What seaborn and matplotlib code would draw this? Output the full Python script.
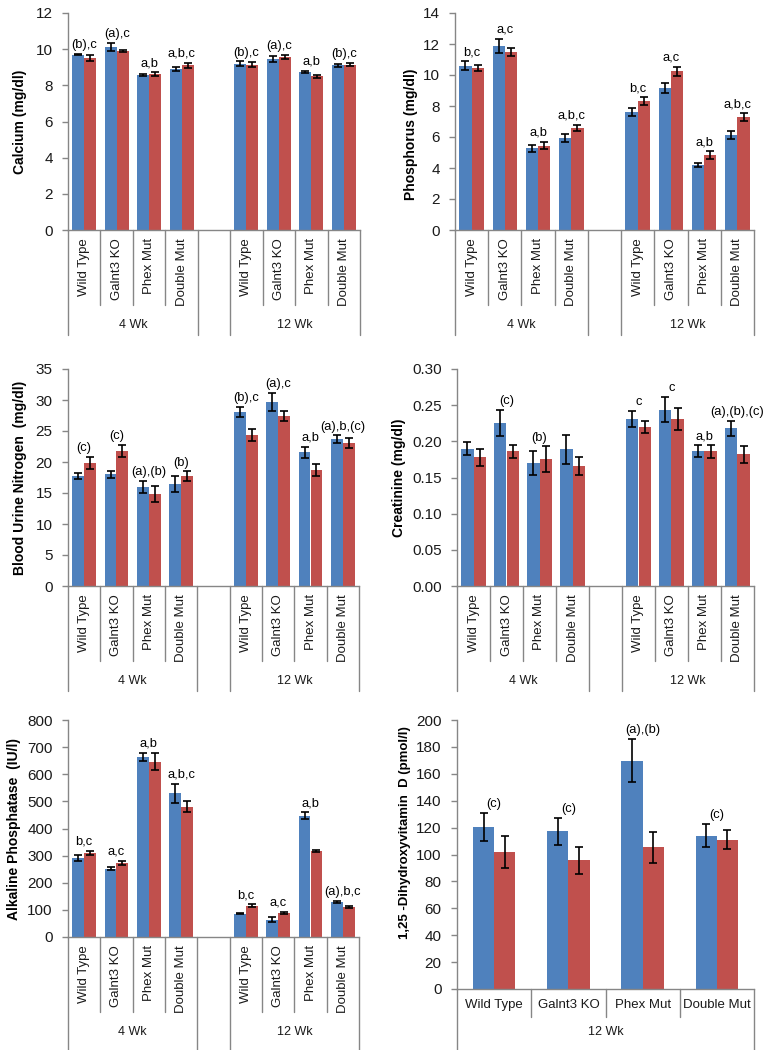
import matplotlib
matplotlib.use("Agg")
import matplotlib.pyplot as plt
import seaborn as sns
import pandas as pd
import numpy as np
from matplotlib.container import BarContainer
from matplotlib.transforms import blended_transform_factory

sns.set_theme(style="white")
plt.rcParams['font.family'] = ['Liberation Sans', 'DejaVu Sans']

# ---------------- data ----------------
genotypes = ["Wild Type", "Galnt3 KO", "Phex Mut", "Double Mut"]
ages = ["4 Wk", "12 Wk"]
series = ["Series 1", "Series 2"]
colors = ["#4F81BD", "#C0504D"]

# order of values: 4 Wk (WT, Galnt3, Phex, Double), 12 Wk (WT, Galnt3, Phex, Double)
calcium_s1 = [9.70, 10.12, 8.57, 8.92, 9.20, 9.45, 8.75, 9.10]
calcium_s2 = [9.52, 9.90, 8.62, 9.10, 9.15, 9.58, 8.50, 9.15]
calcium_e1 = [0.05, 0.22, 0.08, 0.12, 0.12, 0.15, 0.06, 0.08]
calcium_e2 = [0.15, 0.08, 0.10, 0.15, 0.12, 0.12, 0.08, 0.08]
calcium_txt = ["(b),c", "(a),c", "a,b", "a,b,c", "(b),c", "(a),c", "a,b", "(b),c"]

phos_s1 = [10.60, 11.90, 5.26, 5.95, 7.60, 9.16, 4.20, 6.14]
phos_s2 = [10.43, 11.50, 5.45, 6.60, 8.30, 10.24, 4.85, 7.30]
phos_e1 = [0.30, 0.45, 0.20, 0.25, 0.25, 0.35, 0.12, 0.25]
phos_e2 = [0.20, 0.25, 0.25, 0.20, 0.25, 0.30, 0.25, 0.25]
phos_txt = ["b,c", "a,c", "a,b", "a,b,c", "b,c", "a,c", "a,b", "a,b,c"]

bun_s1 = [17.8, 18.0, 16.0, 16.5, 28.1, 29.7, 21.6, 23.7]
bun_s2 = [19.8, 21.8, 14.9, 17.7, 24.4, 27.4, 18.7, 23.0]
bun_e1 = [0.5, 0.5, 1.0, 1.3, 0.8, 1.4, 0.9, 0.6]
bun_e2 = [1.0, 1.0, 1.3, 0.8, 1.0, 0.8, 0.9, 0.8]
bun_txt = ["(c)", "(c)", "(a),(b)", "(b)", "(b),c", "(a),c", "a,b", "(a),b,(c)"]

crea_s1 = [0.190, 0.226, 0.170, 0.189, 0.231, 0.244, 0.187, 0.218]
crea_s2 = [0.178, 0.186, 0.175, 0.166, 0.220, 0.231, 0.186, 0.182]
crea_e1 = [0.009, 0.018, 0.016, 0.020, 0.011, 0.017, 0.008, 0.010]
crea_e2 = [0.012, 0.009, 0.018, 0.013, 0.008, 0.015, 0.009, 0.012]
crea_txt = ["", "(c)", "(b)", "", "c", "c", "a,b", "(a),(b),(c)"]

alp_s1 = [291, 252, 665, 530, 86, 64, 447, 128]
alp_s2 = [310, 274, 647, 481, 115, 88, 317, 112]
alp_e1 = [10, 6, 15, 35, 3, 8, 12, 4]
alp_e2 = [8, 8, 30, 20, 5, 5, 5, 4]
alp_txt = ["b,c", "a,c", "a,b", "a,b,c", "b,c", "a,c", "a,b", "(a),b,c"]

vitd_s1 = [120.5, 117.3, 169.8, 114.0]
vitd_s2 = [102.0, 95.8, 105.4, 110.9]
vitd_e1 = [10.5, 10.0, 16.0, 8.5]
vitd_e2 = [12.0, 10.0, 11.5, 7.0]
vitd_txt = ["(c)", "(c)", "(a),(b)", "(c)"]

W, H = 772, 1050
fig = plt.figure(figsize=(W / 100, H / 100), dpi=100)
AXC = "#868686"
TXC = "#1a1a1a"


def px_axes(l, r, t, b):
    return fig.add_axes([l / W, 1 - b / H, (r - l) / W, (b - t) / H])


def panel(rect, s1, s2, e1, e2, txt, ylabel, ymax, ystep, fmt, age_list,
          vertical, width, cat_depth, grp_depth, cat_lab_off, grp_lab_off,
          ylab_x, ylab_y, ylab_size=10):
    l, r, t, b = rect
    ax = px_axes(l, r, t, b)
    keys, rows = [], []
    n = len(genotypes)
    for gi, age in enumerate(age_list):
        for ci, g in enumerate(genotypes):
            k = f"{age}|{g}"
            keys.append(k)
            idx = gi * n + ci
            rows.append((k, series[0], s1[idx]))
            rows.append((k, series[1], s2[idx]))
        if gi < len(age_list) - 1:
            keys.append(f"gap{gi}")
    df = pd.DataFrame(rows, columns=["cat", "series", "value"])
    sns.barplot(data=df, x="cat", y="value", hue="series", order=keys,
                hue_order=series, palette=colors, saturation=1,
                width=width, errorbar=None, linewidth=0, ax=ax, legend=False)
    # error bars from the bar geometry seaborn created
    errs = [e1, e2]
    tops = {}
    bar_conts = [c for c in list(ax.containers) if isinstance(c, BarContainer)]
    for si, cont in enumerate(bar_conts):
        patches = [p for p in cont if p is not None and np.isfinite(p.get_height())]
        patches.sort(key=lambda p: p.get_x())
        xs = [p.get_x() + p.get_width() / 2 for p in patches]
        hs = [p.get_height() for p in patches]
        ax.errorbar(xs, hs, yerr=errs[si][:len(hs)], fmt="none", ecolor="black",
                    elinewidth=1.2, capsize=3, capthick=1.2, zorder=5)
        for j, hh in enumerate(hs):
            tops.setdefault(j, []).append(hh + errs[si][j])
    # annotation letters
    data_pos = [i for i, k in enumerate(keys) if not k.startswith("gap")]
    for j, xpos in enumerate(data_pos):
        if txt[j]:
            ax.annotate(txt[j], (xpos, max(tops[j])), xytext=(0, 2),
                        textcoords="offset points", ha="center", va="bottom",
                        fontsize=9.3, color="black")
    ax.set_ylim(0, ymax)
    ticks = np.arange(0, ymax + ystep / 2, ystep)
    ax.set_yticks(ticks)
    ax.set_yticklabels([fmt.format(v) for v in ticks], fontsize=11, color=TXC)
    ax.set_xlim(-0.5, len(keys) - 0.5)
    ax.set_xticks([])
    ax.set_xlabel("")
    ax.set_ylabel(ylabel, fontsize=ylab_size, fontweight="bold", color="black")
    ax.yaxis.set_label_coords(ylab_x / (r - l), ylab_y)
    for sp in ["top", "right"]:
        ax.spines[sp].set_visible(False)
    for sp in ["left", "bottom"]:
        ax.spines[sp].set_color(AXC)
        ax.spines[sp].set_linewidth(1)
    ax.tick_params(axis="y", left=True, length=4, width=1, color=AXC, pad=7)
    # multi-level category axis
    tr = blended_transform_factory(ax.transData, ax.transAxes)
    hpx = b - t

    def dy(p):
        return -p / hpx

    group_bounds = []
    pos = 0
    for gi, age in enumerate(age_list):
        start = pos - 0.5
        end = pos + n - 0.5
        group_bounds.append((start, end, age))
        pos += n + 1
    for start, end, age in group_bounds:
        for xb in (start, end):
            ax.plot([xb, xb], [0, dy(grp_depth)], transform=tr, color=AXC,
                    lw=1, clip_on=False)
        for k in range(1, n):
            ax.plot([start + k, start + k], [0, dy(cat_depth)], transform=tr,
                    color=AXC, lw=1, clip_on=False)
        ax.text((start + end) / 2, dy(grp_lab_off), age, transform=tr,
                ha="center", va="center", fontsize=9, color=TXC)
        for ci, g in enumerate(genotypes):
            xc = start + 0.5 + ci
            if vertical:
                ax.text(xc, dy(cat_lab_off), g, transform=tr, rotation=90,
                        ha="center", va="top", fontsize=9.5, color=TXC)
            else:
                ax.text(xc, dy(cat_lab_off), g, transform=tr,
                        ha="center", va="center", fontsize=9.5, color=TXC)
    return ax


panel((68, 360, 13, 230), calcium_s1, calcium_s2, calcium_e1, calcium_e2,
      calcium_txt, "Calcium (mg/dl)", 12, 2, "{:.0f}", ages, True, 0.74,
      75, 105, 8, 95, -41, 0.5)
panel((455, 754, 13, 230), phos_s1, phos_s2, phos_e1, phos_e2,
      phos_txt, "Phosphorus (mg/dl)", 14, 2, "{:.0f}", ages, True, 0.74,
      75, 105, 8, 95, -37, 0.44)
panel((68, 359, 369, 586), bun_s1, bun_s2, bun_e1, bun_e2,
      bun_txt, "Blood Urine Nitrogen  (mg/dl)", 35, 5, "{:.0f}", ages, True, 0.74,
      75, 105, 8, 95, -41, 0.5)
panel((457, 754, 369, 586), crea_s1, crea_s2, crea_e1, crea_e2,
      crea_txt, "Creatinine (mg/dl)", 0.30, 0.05, "{:.2f}", ages, True, 0.74,
      75, 105, 8, 95, -51, 0.5)
panel((68, 359, 720, 937), alp_s1, alp_s2, alp_e1, alp_e2,
      alp_txt, "Alkaline Phosphatase  (IU/l)", 800, 100, "{:.0f}", ages, True, 0.74,
      75, 115, 8, 95, -47, 0.5)
panel((457, 754, 720, 989), vitd_s1, vitd_s2, vitd_e1, vitd_e2,
      vitd_txt, "1,25 -Dihydroxyvitamin  D (pmol/l)", 200, 20, "{:.0f}", ["12 Wk"],
      False, 0.57, 28, 62, 16, 43, -46, 0.58, ylab_size=9.5)

fig.savefig("out.png", dpi=100)
